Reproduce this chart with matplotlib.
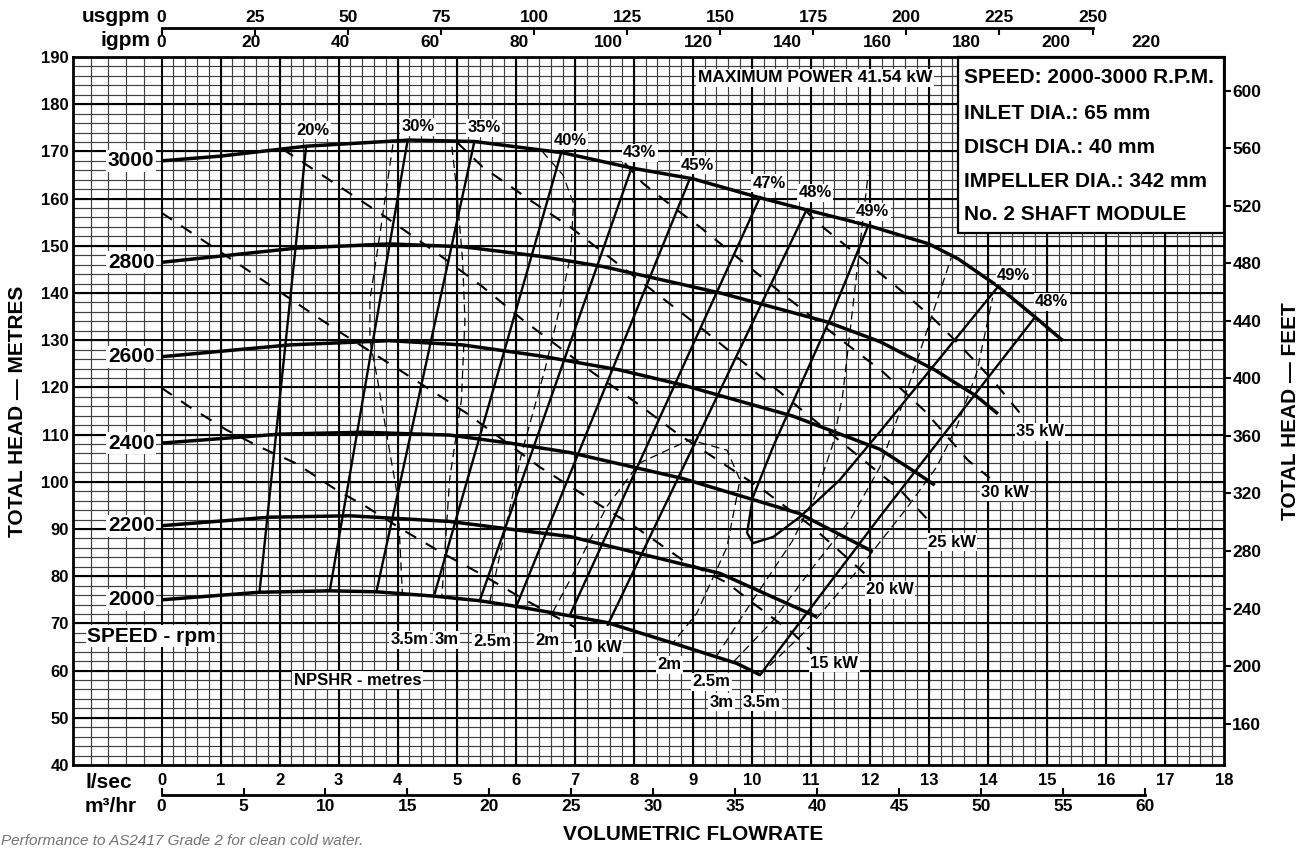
import numpy as np
import matplotlib.pyplot as plt
from matplotlib.patches import Rectangle

plt.rcParams['font.family'] = ['Liberation Sans', 'DejaVu Sans']
plt.rcParams['font.weight'] = 'bold'
plt.rcParams['xtick.labelsize'] = 12
plt.rcParams['ytick.labelsize'] = 12
plt.rcParams['lines.scale_dashes'] = False

# ---- head / flow curves for each speed (flow l/s, head m) ----
speed_names = ['3000', '2800', '2600', '2400', '2200', '2000']
q_3000 = [0, 1.0, 2.45, 4.2, 5.3, 6.8, 8.0, 9.0, 10.1, 10.9, 12.0, 13.0, 13.5, 14.15, 14.8, 15.27]
h_3000 = [168, 169, 171.1, 172.4, 172.1, 169.7, 166.4, 164.2, 160.3, 157.7, 154.2, 150.4, 147.2, 141.6, 134.9, 129.9]
q_2800 = [0, 2.28, 3.86, 5.1, 6.4, 7.48, 9.5, 11.27, 12.17, 13.1, 13.8, 14.17]
h_2800 = [146.5, 149.5, 150.4, 149.8, 147.8, 145.6, 139.9, 133.9, 129.7, 123.7, 118.2, 114.4]
q_2600 = [0, 2.17, 3.86, 5.1, 6.4, 7.76, 8.83, 10.7, 12.17, 12.79, 13.1]
h_2600 = [126.5, 129.0, 129.9, 129.0, 126.7, 123.7, 120.5, 113.9, 106.9, 101.9, 99.3]
q_2400 = [0, 2.0, 3.41, 4.88, 5.9, 6.92, 8.83, 10.8, 12.05]
h_2400 = [108.2, 110.1, 110.5, 109.9, 108.2, 106.2, 100.7, 93.3, 85.2]
q_2200 = [0, 1.83, 3.19, 4.88, 6.01, 6.92, 8.1, 9.46, 11.1]
h_2200 = [90.7, 92.5, 92.8, 91.6, 89.8, 88.4, 84.8, 80.6, 71.4]
q_2000 = [0, 1.66, 2.85, 3.64, 4.6, 5.39, 6.01, 6.92, 7.54, 8.67, 9.74, 10.14]
h_2000 = [75.0, 76.6, 76.9, 76.7, 75.8, 74.8, 73.6, 71.6, 70.2, 65.8, 61.55, 59.1]
speed_q = [q_3000, q_2800, q_2600, q_2400, q_2200, q_2000]
speed_h = [h_3000, h_2800, h_2600, h_2400, h_2200, h_2000]

# ---- efficiency iso-lines (top point on 3000 curve, bottom point on 2000 curve) ----
eff_names = ['20%', '30%', '35%', '40%', '43%', '45%', '47%', '48%']
eff_top_q = [2.45, 4.17, 5.3, 6.77, 7.96, 8.95, 10.14, 10.93]
eff_top_h = [171.1, 172.4, 172.1, 169.7, 166.4, 164.2, 160.3, 157.7]
eff_bot_q = [1.66, 2.85, 3.64, 4.63, 5.39, 6.01, 6.92, 7.56]
eff_bot_h = [76.6, 76.9, 76.7, 76.4, 74.8, 73.6, 71.8, 69.7]
eff_lab_q = [2.56, 4.34, 5.46, 6.92, 8.1, 9.08, 10.29, 11.07]
eff_lab_h = [174.5, 175.2, 175.0, 172.4, 169.7, 167.1, 163.3, 161.2]

eff49_q = [11.97, 11.32, 10.69, 10.36, 10.02, 9.92, 10.02, 10.36, 10.81, 11.49, 12.17, 14.15]
eff49_h = [154.2, 134.3, 116.7, 107.4, 96.8, 89.2, 87.0, 88.3, 92.5, 100.4, 110.6, 141.0]
eff48r_q = [14.8, 12.17, 10.14]
eff48r_h = [134.9, 92.6, 59.1]
eff_right_names = ['49%', '49%', '48%']
eff_right_lab_q = [12.05, 14.44, 15.08]
eff_right_lab_h = [157.2, 143.8, 138.1]

# ---- power lines (kW) ----
kw_names = ['10 kW', '15 kW', '20 kW', '25 kW', '30 kW', '35 kW']
kw10_q = [0, 0.47, 1.10, 1.66, 2.28, 2.96, 3.47, 4.09, 4.77, 5.39, 6.07, 6.58, 7.0]
kw10_h = [119.9, 115.9, 111.0, 107.4, 103.9, 98.3, 94.7, 89.8, 84.8, 80.6, 75.6, 72.1, 69.2]
kw15_q = [0, 1.44, 2.96, 4.03, 5.16, 6.41, 7.37, 8.1, 8.83, 9.58, 10.02, 10.69, 10.98]
kw15_h = [157.0, 145.0, 132.2, 123.7, 114.6, 103.1, 95.5, 89.8, 83.4, 78.6, 74.3, 68.0, 64.4]
kw20_q = [2.05, 2.9, 3.75, 4.66, 5.44, 6.12, 6.58, 7.31, 8.05, 8.73, 10.19, 11.03, 12.0]
kw20_h = [170.5, 163.5, 156.5, 148.5, 141.3, 134.3, 130.0, 123.1, 116.7, 110.3, 98.3, 90.4, 79.6]
kw25_q = [5.0, 5.44, 6.24, 6.92, 9.12, 10.81, 12.51, 13.07]
kw25_h = [172.0, 166.7, 159.7, 154.0, 132.8, 115.6, 98.3, 90.8]
kw30_q = [7.85, 8.15, 8.73, 9.12, 10.44, 11.46, 12.22, 12.93, 13.66, 14.03]
kw30_h = [167.5, 163.3, 157.6, 154.0, 140.6, 130.6, 123.3, 115.0, 104.6, 100.8]
kw35_q = [10.9, 11.12, 12.17, 12.56, 13.1, 13.44, 13.81, 14.15, 14.54]
kw35_h = [157.6, 154.8, 144.2, 140.2, 134.3, 130.0, 125.2, 120.5, 114.6]
kw_q = [kw10_q, kw15_q, kw20_q, kw25_q, kw30_q, kw35_q]
kw_h = [kw10_h, kw15_h, kw20_h, kw25_h, kw30_h, kw35_h]
kw_lab_q = [7.39, 11.4, 12.34, 13.39, 14.29, 14.88]
kw_lab_h = [64.8, 61.6, 77.1, 87.2, 97.8, 110.6]

# ---- NPSHR lines (m) ----
np35l_q = [3.92, 3.71, 3.53, 3.53, 3.66, 3.86, 4.0, 4.08]
np35l_h = [171.5, 153.3, 138.5, 130.0, 121.6, 106.8, 96.8, 76.4]
np3l_q = [4.92, 5.0, 5.1, 5.14, 5.08, 4.88, 4.75]
np3l_h = [171.0, 161.8, 147.0, 134.3, 117.3, 100.4, 75.8]
np25l_q = [6.45, 6.8, 6.98, 6.93, 6.73, 6.5, 6.1, 5.56]
np25l_h = [170.0, 165.0, 159.0, 148.0, 136.0, 124.0, 106.0, 74.5]
np2_q = [6.63, 6.92, 7.54, 8.1, 8.95, 9.58, 9.80, 9.58, 9.07, 8.66]
np2_h = [72.4, 79.2, 94.7, 104.0, 108.9, 106.7, 100.4, 86.2, 72.2, 65.8]
np25r_q = [9.4, 10.0, 10.68, 11.08, 11.37, 11.54, 11.97]
np25r_h = [63.0, 74.6, 87.3, 97.2, 107.8, 118.4, 165.0]
np3r_q = [9.7, 10.36, 11.03, 11.66, 12.17, 12.5, 12.73, 13.38]
np3r_h = [62.0, 70.6, 81.8, 91.8, 103.1, 114.6, 123.1, 147.5]
np35r_q = [10.14, 10.93, 11.83, 12.63, 13.13, 13.47, 13.81, 14.08]
np35r_h = [59.1, 68.6, 81.8, 94.5, 103.1, 111.6, 123.1, 139.0]
npsh_q = [np35l_q, np3l_q, np25l_q, np2_q, np25r_q, np3r_q, np35r_q]
npsh_h = [np35l_h, np3l_h, np25l_h, np2_h, np25r_h, np3r_h, np35r_h]
npsh_names = ['3.5m', '3m', '2.5m', '2m', '2m', '2.5m', '3m', '3.5m']
npsh_lab_q = [4.2, 4.83, 5.61, 6.54, 8.61, 9.32, 9.49, 10.17]
npsh_lab_h = [66.5, 66.5, 66.1, 66.3, 61.2, 57.6, 53.3, 53.3]

info_lines = ['SPEED: 2000-3000 R.P.M.', 'INLET DIA.: 65 mm', 'DISCH DIA.: 40 mm',
              'IMPELLER DIA.: 342 mm', 'No. 2 SHAFT MODULE']
info_h = [185.6, 178.1, 170.9, 163.7, 156.7]

usgpm_ticks = list(range(0, 251, 25))
igpm_ticks = list(range(0, 221, 20))
m3hr_ticks = list(range(0, 61, 5))
feet_ticks = list(range(160, 601, 40))

fig = plt.figure(figsize=(13.03, 8.49), dpi=100)
ax = fig.add_axes([73 / 1303, 1 - 765 / 849, (1224 - 73) / 1303, (765 - 57) / 849])
ax.set_xlim(-1.5, 18)
ax.set_ylim(40, 190)

# graph paper grid
minor_x = list(np.arange(-1.2, 0, 0.3)) + list(np.arange(0.2, 18, 0.2))
for x in minor_x:
    ax.axvline(x, color='0.25', lw=0.85, zorder=0)
for y in np.arange(42, 190, 2):
    ax.axhline(y, color='0.25', lw=0.85, zorder=0)
for x in range(0, 18):
    ax.axvline(x, color='black', lw=1.5, zorder=0.5)
for y in range(50, 190, 10):
    ax.axhline(y, color='black', lw=1.5, zorder=0.5)

lab_box = dict(facecolor='white', edgecolor='none', pad=1.0)

for name, qs, hs in zip(speed_names, speed_q, speed_h):
    ax.plot(qs, hs, color='black', lw=2.5, solid_capstyle='butt', zorder=4)
    ax.text(-0.12, hs[0], name, ha='right', va='center', fontsize=15, bbox=lab_box, zorder=6)

for i in range(len(eff_names)):
    ax.plot([eff_top_q[i], eff_bot_q[i]], [eff_top_h[i], eff_bot_h[i]], color='black', lw=1.7, zorder=3)
    ax.text(eff_lab_q[i], eff_lab_h[i], eff_names[i], ha='center', va='center', fontsize=12,
            bbox=lab_box, zorder=6)
ax.plot(eff49_q, eff49_h, color='black', lw=1.7, zorder=3)
ax.plot(eff48r_q, eff48r_h, color='black', lw=1.7, zorder=3)
for name, x, y in zip(eff_right_names, eff_right_lab_q, eff_right_lab_h):
    ax.text(x, y, name, ha='center', va='center', fontsize=12, bbox=lab_box, zorder=6)

for qs, hs in zip(kw_q, kw_h):
    ax.plot(qs, hs, color='black', lw=1.5, dashes=(9, 8), zorder=2)
for name, x, y in zip(kw_names, kw_lab_q, kw_lab_h):
    ax.text(x, y, name, ha='center', va='center', fontsize=12, bbox=lab_box, zorder=6)

for qs, hs in zip(npsh_q, npsh_h):
    ax.plot(qs, hs, color='black', lw=0.9, dashes=(6, 3.5), zorder=2)
for name, x, y in zip(npsh_names, npsh_lab_q, npsh_lab_h):
    ax.text(x, y, name, ha='center', va='center', fontsize=12, bbox=lab_box, zorder=6)

ax.text(-0.17, 67.3, 'SPEED - rpm', ha='center', va='center', fontsize=15, bbox=lab_box, zorder=6)
ax.text(3.32, 58.0, 'NPSHR - metres', ha='center', va='center', fontsize=12, bbox=lab_box, zorder=6)
ax.text(11.07, 185.6, 'MAXIMUM POWER 41.54 kW', ha='center', va='center', fontsize=12.5,
        bbox=lab_box, zorder=6)

# info box
ax.add_patch(Rectangle((13.5, 152.7), 4.5, 37.3, facecolor='white', edgecolor='black', lw=1.6,
                       zorder=7, clip_on=False))
for line, h in zip(info_lines, info_h):
    ax.text(13.6, h, line, ha='left', va='center', fontsize=15, zorder=8)

# axes / ticks
ax.set_xticks(range(0, 19))
ax.set_yticks(range(40, 191, 10))
ax.tick_params(length=0, pad=6)
ax.tick_params(axis='y', pad=3)
for s in ax.spines.values():
    s.set_linewidth(2)
    s.set_zorder(9)

tick_font = dict(fontsize=12.5, fontweight='bold')

ax_ft = ax.secondary_yaxis('right', functions=(lambda m: m * 3.28084, lambda f: f / 3.28084))
ax_ft.set_yticks(feet_ticks, labels=[str(v) for v in feet_ticks], **tick_font)
ax_ft.tick_params(length=5, width=1.5, pad=1)

ax_us = ax.secondary_xaxis(1.041, functions=(lambda q: q * 15.85, lambda g: g / 15.85))
ax_us.set_xticks(usgpm_ticks, labels=[str(v) for v in usgpm_ticks], **tick_font)
ax_us.spines['top'].set_bounds(0, 250)
ax_us.spines['top'].set_linewidth(2)
ax_us.tick_params(direction='in', length=5, width=1.5, pad=2)

ax_ig = ax.secondary_xaxis('top', functions=(lambda q: q * 13.198, lambda g: g / 13.198))
ax_ig.set_xticks(igpm_ticks, labels=[str(v) for v in igpm_ticks], **tick_font)
ax_ig.spines['top'].set_visible(False)
ax_ig.tick_params(length=0, pad=5)

ax_m3 = ax.secondary_xaxis(-0.0424, functions=(lambda q: q * 3.6, lambda m: m / 3.6))
ax_m3.set_xticks(m3hr_ticks, labels=[str(v) for v in m3hr_ticks], **tick_font)
ax_m3.spines['bottom'].set_bounds(0, 60)
ax_m3.spines['bottom'].set_linewidth(2)
ax_m3.tick_params(direction='in', length=5, width=1.5, pad=3)

fig.text(150 / 1303, 1 - 17 / 849, 'usgpm', ha='right', va='center', fontsize=15)
fig.text(150 / 1303, 1 - 41 / 849, 'igpm', ha='right', va='center', fontsize=15)
fig.text(132 / 1303, 1 - 782 / 849, 'l/sec', ha='right', va='center', fontsize=15)
fig.text(137 / 1303, 1 - 807 / 849, 'm³/hr', ha='right', va='center', fontsize=15)
fig.text(693 / 1303, 1 - 835 / 849, 'VOLUMETRIC FLOWRATE', ha='center', va='center', fontsize=15)
fig.text(18 / 1303, 1 - 411 / 849, 'TOTAL HEAD — METRES', rotation=90, ha='center', va='center', fontsize=15)
fig.text(1290 / 1303, 1 - 411 / 849, 'TOTAL HEAD — FEET', rotation=90, ha='center', va='center', fontsize=15)
fig.text(0.001, 1 / 849, 'Performance to AS2417 Grade 2 for clean cold water.', ha='left', va='bottom',
         fontsize=11, style='italic', weight='normal', color='0.45')

fig.savefig('out.png', dpi=100)
